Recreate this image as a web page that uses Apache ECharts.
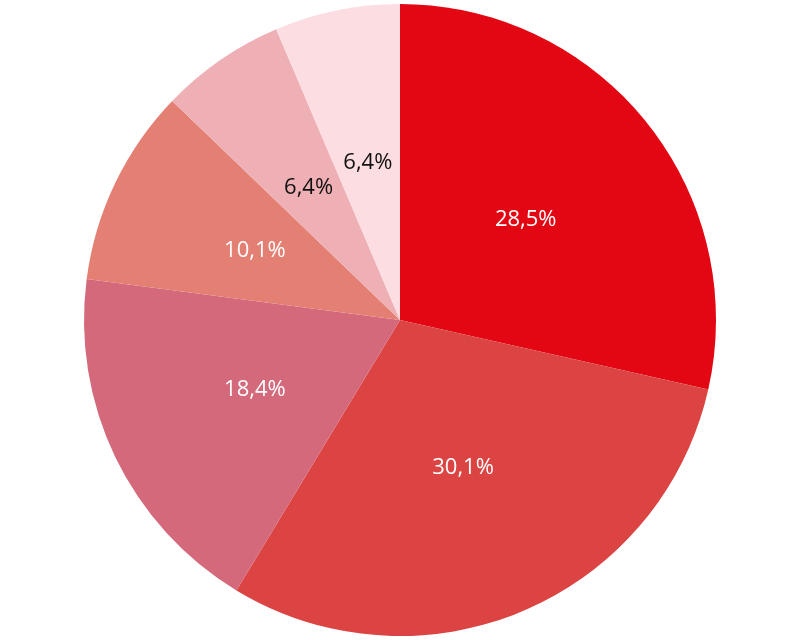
<!DOCTYPE html>
<html>
<head>
<meta charset="utf-8">
<script src="https://cdn.jsdelivr.net/npm/echarts@6/dist/echarts.min.js"></script>
<style>html,body{margin:0;padding:0;background:#fff}</style>
</head>
<body>
<div id="chart" style="width:800px;height:640px;"></div>
<script>
var values = [28.5, 30.1, 18.4, 10.1, 6.4, 6.4];
var colors = ['#e30613', '#db4443', '#d4697c', '#e47f74', '#efb0b5', '#fbdde2'];
var labelColors = ['#fff', '#fff', '#fff', '#fff', '#111', '#111'];

var seriesData = [];
for (var i = 0; i < values.length; i++) {
	seriesData.push({
		value: values[i],
		itemStyle: { color: colors[i] },
		label: { color: labelColors[i] }
	});
}

var chart = echarts.init(document.getElementById('chart'));
var option = {
	animation: false,
	series: [
		{
			type: 'pie',
			center: [400, 320],
			radius: [0, 316],
			startAngle: 90,
			clockwise: true,
			label: {
				show: true,
				position: 'inside',
				fontFamily: 'Open Sans',
				fontSize: 22,
				formatter: function (p) {
					return p.value.toFixed(1).replace('.', ',') + '%';
				}
			},
			labelLine: { show: false },
			itemStyle: { borderWidth: 0 },
			data: seriesData
		}
	]
};
chart.setOption(option);
</script>
</body>
</html>
